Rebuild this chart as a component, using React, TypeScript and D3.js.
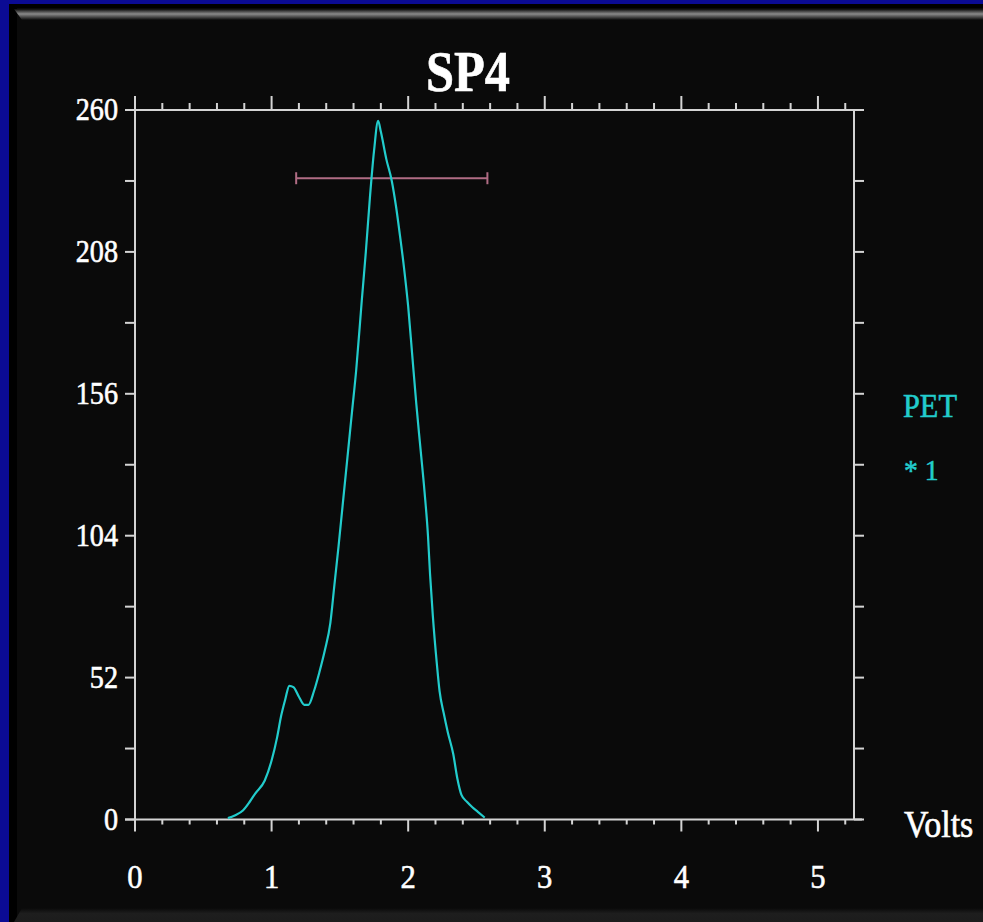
import React, { useMemo } from "react";
import * as d3 from "d3";

// Histogram trace of the PET channel (pulse height in volts vs. counts)
const volts = [
  0.68, 0.73, 0.79, 0.84, 0.88, 0.95, 1.0, 1.04, 1.07, 1.1, 1.13, 1.16, 1.2, 1.24,
  1.27, 1.31, 1.35, 1.39, 1.43, 1.46, 1.49, 1.52, 1.56, 1.59, 1.62, 1.66, 1.69,
  1.72, 1.75, 1.78, 1.8, 1.84, 1.88, 1.91, 1.94, 1.97, 2.0, 2.03, 2.06, 2.09, 2.12,
  2.145, 2.16, 2.18, 2.21, 2.23, 2.26, 2.29, 2.33, 2.36, 2.39, 2.43, 2.47, 2.51, 2.56,
];
const counts = [
  0.5, 1.5, 3.3, 6.5, 9.5, 14.3, 21.6, 30, 38, 44, 49, 48.5, 45, 42, 42, 47, 54, 62,
  72, 86, 100, 115, 135, 150, 165, 190, 208, 228, 245, 256, 252, 242, 234, 225, 214,
  202, 188, 170, 152, 136, 120, 104, 90, 75, 57, 47, 39, 32, 24, 15, 9, 6.5, 4.5,
  2.8, 0.7,
];

// Resolution bar: centre and half width (volts) at a given count level
const barCenter = 1.88;
const barHalfWidth = 0.7;
const barLevel = 235;

const xTickLabels = [0, 1, 2, 3, 4, 5];
const yTickLabels = [0, 52, 104, 156, 208, 260];
const xMinorStep = 0.2;
const yMinorStep = 26;

const title = "SP4";
const xAxisTitle = "Volts";
const legendName = "PET";
const legendTag = "* 1";

const W = 983;
const H = 922;
const CURVE = "#22cccc";
const AXIS = "#d4d4d4";
const FONT = "'Liberation Serif', 'Times New Roman', serif";

type LabelProps = {
  x: number;
  y: number;
  size: number;
  sx: number;
  fill: string;
  anchor?: "start" | "middle" | "end";
  weight?: string;
  children: React.ReactNode;
};

// Slightly condensed serif label, thickened with a thin outline
function Label({ x, y, size, sx, fill, anchor = "start", weight = "normal", children }: LabelProps) {
  return (
    <text
      transform={`translate(${x},${y}) scale(${sx},1)`}
      fill={fill}
      stroke={fill}
      strokeWidth={0.6}
      fontSize={size}
      fontWeight={weight}
      textAnchor={anchor}
    >
      {children}
    </text>
  );
}

export default function App() {
  const x = useMemo(() => d3.scaleLinear().domain([0, 5.264]).range([135, 854]), []);
  const y = useMemo(() => d3.scaleLinear().domain([0, 260]).range([819.5, 110]), []);

  const line = d3
    .line<number>()
    .x((_, i) => x(volts[i]))
    .y((c) => y(c))
    .curve(d3.curveMonotoneX);

  const xMinor = d3.range(0, 5.2 + 1e-6, xMinorStep);
  const yMinor = d3.range(0, 260 + 1e-6, yMinorStep);
  const isMajorX = (v: number) => Math.abs(v - Math.round(v)) < 1e-6;

  const x0 = x(0);
  const x1 = x.range()[1];
  const yTop = y(260);
  const yBot = y(0);

  return (
    <svg
      width={W}
      height={H}
      style={{ position: "absolute", left: 0, top: 0, display: "block" }}
      fontFamily={FONT}
    >
      <defs>
        <linearGradient id="topBevel" x1="0" y1="0" x2="0" y2="1">
          <stop offset="0" stopColor="#0a0a0a" />
          <stop offset="0.45" stopColor="#8a8a8a" />
          <stop offset="1" stopColor="#0a0a0a" />
        </linearGradient>
        <linearGradient id="bottomBevel" x1="0" y1="0" x2="0" y2="1">
          <stop offset="0" stopColor="#0a0a0a" />
          <stop offset="0.4" stopColor="#1e1e1e" />
          <stop offset="1" stopColor="#1c1c1c" />
        </linearGradient>
      </defs>

      {/* slide frame */}
      <rect x={0} y={0} width={W} height={H} fill="#0b0b94" />
      <rect x={9} y={4} width={W - 9} height={H - 4} fill="#000000" />
      <rect x={17} y={8} width={W - 17} height={H - 8} fill="#0a0a0a" />
      <polygon points={`14,9 ${W},9 ${W},20 22,20`} fill="url(#topBevel)" />
      <polygon points={`22,908 ${W},908 ${W},${H} 14,${H}`} fill="url(#bottomBevel)" />

      {/* title */}
      <Label x={468} y={91} size={56} sx={0.9} fill="#ffffff" anchor="middle" weight="bold">
        {title}
      </Label>

      {/* frame lines */}
      <g stroke={AXIS} strokeWidth={2} fill="none">
        <line x1={125} x2={863} y1={yTop} y2={yTop} />
        <line x1={125} x2={862} y1={yBot} y2={yBot} />
        <line x1={x0} x2={x0} y1={yTop} y2={yBot} />
        <line x1={x1} x2={x1} y1={yTop} y2={yBot} />

        {xMinor.map((v) => {
          const len = isMajorX(v) ? 14 : 7;
          return (
            <g key={`xt${v.toFixed(1)}`}>
              <line x1={x(v)} x2={x(v)} y1={yTop} y2={yTop - len} />
              <line x1={x(v)} x2={x(v)} y1={yBot} y2={yBot + len - 2} />
            </g>
          );
        })}

        {yMinor.map((c) => (
          <g key={`yt${c}`}>
            <line x1={x0} x2={x0 - 10} y1={y(c)} y2={y(c)} />
            <line x1={x1} x2={x1 + 10} y1={y(c)} y2={y(c)} />
          </g>
        ))}
      </g>

      {/* tick labels */}
      {yTickLabels.map((c) => (
        <Label key={`yl${c}`} x={118} y={y(c) + 10} size={32} sx={0.88} fill="#ffffff" anchor="end">
          {c}
        </Label>
      ))}
      {xTickLabels.map((v) => (
        <Label key={`xl${v}`} x={x(v)} y={888} size={34} sx={0.9} fill="#ffffff" anchor="middle">
          {v}
        </Label>
      ))}

      <Label x={904} y={837} size={37} sx={0.92} fill="#ffffff">
        {xAxisTitle}
      </Label>

      {/* legend */}
      <Label x={903} y={417} size={33} sx={0.92} fill={CURVE}>
        {legendName}
      </Label>
      <Label x={904} y={480} size={30} sx={0.92} fill={CURVE}>
        {legendTag}
      </Label>

      {/* resolution bar */}
      <g stroke="#b06c84" strokeWidth={2}>
        <line
          x1={x(barCenter - barHalfWidth)}
          x2={x(barCenter + barHalfWidth)}
          y1={y(barLevel)}
          y2={y(barLevel)}
        />
        <line
          x1={x(barCenter - barHalfWidth)}
          x2={x(barCenter - barHalfWidth)}
          y1={y(barLevel) - 6}
          y2={y(barLevel) + 6}
        />
        <line
          x1={x(barCenter + barHalfWidth)}
          x2={x(barCenter + barHalfWidth)}
          y1={y(barLevel) - 6}
          y2={y(barLevel) + 6}
        />
      </g>

      {/* spectrum */}
      <path d={line(counts) ?? ""} fill="none" stroke={CURVE} strokeWidth={2.2} />
    </svg>
  );
}
